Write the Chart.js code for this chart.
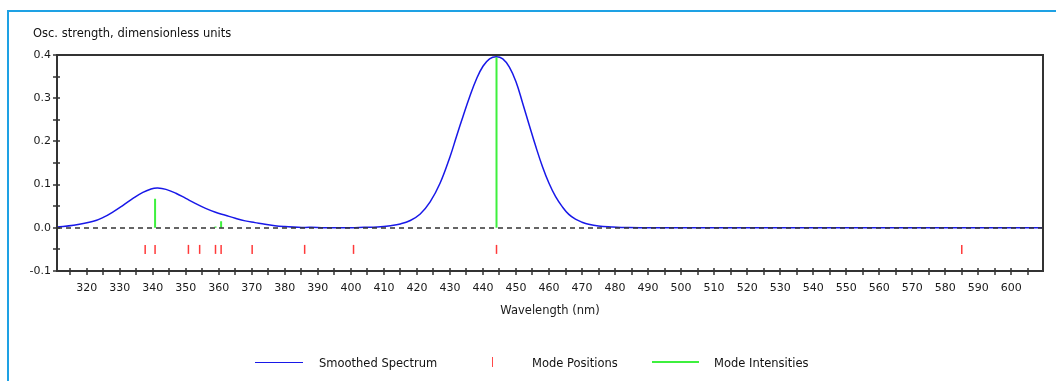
<!DOCTYPE html>
<html>
<head>
<meta charset="utf-8">
<title>Smoothed Spectrum</title>
<script src="https://cdn.jsdelivr.net/npm/chart.js@4.4.0/dist/chart.umd.min.js"></script>
<style>
  body { margin: 0; background: #fff; }
  #wrap { position: relative; width: 1056px; height: 381px; overflow: hidden; font-family: "DejaVu Sans", sans-serif; color: #111; }
  #frame { position: absolute; left: 7px; top: 10px; width: 1200px; height: 500px; border-left: 2px solid #1ea1e4; border-top: 2px solid #1ea1e4; }
  #chart { position: absolute; left: 0; top: 0; }
  .txt { position: absolute; font-size: 11.5px; line-height: 14px; white-space: nowrap; }
  .swatch { position: absolute; }
</style>
</head>
<body>
<div id="wrap">
  <div id="frame"></div>
  <canvas id="chart" width="1056" height="381"></canvas>
  <div class="txt" style="left:33px; top:26px;">Osc. strength, dimensionless units</div>

  <div class="swatch" style="left:255px; top:361.5px; width:48px; height:1.5px; background:#1818e8;"></div>
  <div class="txt" style="left:319px; top:356px;">Smoothed Spectrum</div>
  <div class="swatch" style="left:491.5px; top:357px; width:1.2px; height:10px; background:#ff4a4a;"></div>
  <div class="txt" style="left:532px; top:356px;">Mode Positions</div>
  <div class="swatch" style="left:652px; top:361px; width:47px; height:2px; background:#3ef03e;"></div>
  <div class="txt" style="left:714px; top:356px;">Mode Intensities</div>
</div>

<script>
// smoothed absorption spectrum, wavelength in nm
var wavelengths = [311, 316, 322, 325, 328, 331, 334, 337, 339.5, 341.5, 344, 347, 350, 353, 356, 359, 362, 365, 368, 371, 374, 377, 380, 384, 388, 392, 400, 404, 408, 412, 415, 418, 421, 424, 427, 430, 432, 434, 436, 438, 440, 442, 444, 446, 448, 450, 452, 454, 456, 458, 460, 462, 464, 466, 468, 470, 472, 475, 479, 484, 492, 610];
var spectrum = [0.002, 0.006, 0.015, 0.024, 0.037, 0.052, 0.068, 0.082, 0.090, 0.092, 0.089, 0.080, 0.068, 0.056, 0.045, 0.036, 0.029, 0.022, 0.016, 0.012, 0.008, 0.005, 0.003, 0.001, 0.001, 0.0, 0.0, 0.001, 0.002, 0.005, 0.009, 0.017, 0.032, 0.060, 0.103, 0.164, 0.212, 0.259, 0.304, 0.344, 0.374, 0.391, 0.396, 0.391, 0.372, 0.338, 0.289, 0.238, 0.188, 0.142, 0.103, 0.072, 0.049, 0.031, 0.020, 0.013, 0.008, 0.004, 0.002, 0.0005, 0.0, 0.0];

// individual modes
var modePositions = [337.7, 340.7, 350.8, 354.2, 359.0, 360.7, 370.1, 386.0, 400.8, 444.1, 585.0];
var modeIntensities = [0, 0.067, 0, 0, 0.003, 0.015, 0, 0, 0, 0.395, 0];
var modeMarkLevel = -0.05;

// axis ranges
var xRange = [311, 609.6];
var yRange = [-0.1, 0.4];

var spectrumPoints = wavelengths.map(function (w, i) { return { x: w, y: spectrum[i] }; });
var markPoints = modePositions.map(function (w) { return { x: w, y: modeMarkLevel }; });

// one vertical stick per mode, separated by gaps
var stickPoints = [];
modePositions.forEach(function (w, i) {
    if (modeIntensities[i] > 0) {
        stickPoints.push({ x: w, y: 0 }, { x: w, y: modeIntensities[i] }, { x: w, y: null });
    }
});

var axisColor = '#333';
var tickFont = { family: 'DejaVu Sans', size: 11 };

// box around the plot, ticks crossing the axes and the dashed zero line
var framePlugin = {
    id: 'frame',
    afterDatasetsDraw: function (chart) {
        var ctx = chart.ctx, a = chart.chartArea;
        var xs = chart.scales.x, ys = chart.scales.y;
        ctx.save();
        ctx.strokeStyle = axisColor;

        var y0 = Math.round(ys.getPixelForValue(0));
        ctx.lineWidth = 1.5;
        ctx.setLineDash([5, 4]);
        ctx.beginPath();
        ctx.moveTo(a.left, y0);
        ctx.lineTo(a.right, y0);
        ctx.stroke();
        ctx.setLineDash([]);

        ctx.lineWidth = 2;
        ctx.strokeRect(a.left, a.top, a.right - a.left, a.bottom - a.top);

        ctx.lineWidth = 1.5;
        ctx.beginPath();
        xs.ticks.forEach(function (t) {
            var px = Math.round(xs.getPixelForValue(t.value));
            ctx.moveTo(px, a.bottom - 3);
            ctx.lineTo(px, a.bottom + 4);
        });
        ys.ticks.forEach(function (t) {
            var py = Math.round(ys.getPixelForValue(t.value));
            ctx.moveTo(a.left - 4, py);
            ctx.lineTo(a.left + 3, py);
        });
        ctx.stroke();
        ctx.restore();
    }
};

var ctx = document.getElementById('chart');
var spectrumChart = new Chart(ctx, {
    type: 'line',
    data: {
        datasets: [{
            label: 'Mode Intensities',
            data: stickPoints,
            borderColor: '#3ef03e',
            borderWidth: 2,
            pointRadius: 0,
            spanGaps: false,
            order: 0
        }, {
            label: 'Mode Positions',
            data: markPoints,
            showLine: false,
            pointStyle: 'line',
            pointRotation: 90,
            pointRadius: 4.5,
            pointBorderColor: '#ff3a3a',
            pointBorderWidth: 1.5,
            order: 1
        }, {
            label: 'Smoothed Spectrum',
            data: spectrumPoints,
            borderColor: '#1818e8',
            borderWidth: 1.5,
            pointRadius: 0,
            tension: 0.4,
            order: 2
        }]
    },
    options: {
        responsive: false,
        animation: false,
        events: [],
        layout: { padding: { top: 55, right: 13, bottom: 60, left: 0 } },
        plugins: {
            legend: { display: false },
            tooltip: { enabled: false }
        },
        scales: {
            x: {
                type: 'linear',
                min: xRange[0],
                max: xRange[1],
                grid: { display: false, drawTicks: false },
                border: { display: false },
                ticks: {
                    stepSize: 5,
                    includeBounds: false,
                    autoSkip: false,
                    maxRotation: 0,
                    padding: 11,
                    color: '#1a1a1a',
                    font: tickFont,
                    callback: function (v) { return v % 10 === 0 ? String(v) : ''; }
                },
                title: {
                    display: true,
                    text: 'Wavelength (nm)',
                    color: '#1a1a1a',
                    font: { family: 'DejaVu Sans', size: 11.5 },
                    padding: { top: 0, bottom: 3 }
                },
                afterFit: function (scale) {
                    scale.height = 50;
                    scale.paddingLeft = 0;
                    scale.paddingRight = 0;
                }
            },
            y: {
                min: yRange[0],
                max: yRange[1],
                grid: { display: false, drawTicks: false },
                border: { display: false },
                ticks: {
                    stepSize: 0.05,
                    padding: 6,
                    color: '#1a1a1a',
                    font: tickFont,
                    callback: function (v) {
                        var tenth = Math.round(v * 10);
                        return Math.abs(tenth - v * 10) < 1e-6 ? (tenth / 10).toFixed(1) : '';
                    }
                },
                afterFit: function (scale) {
                    scale.width = 57;
                    scale.paddingTop = 0;
                    scale.paddingBottom = 0;
                }
            }
        }
    },
    plugins: [framePlugin]
});
</script>
</body>
</html>
